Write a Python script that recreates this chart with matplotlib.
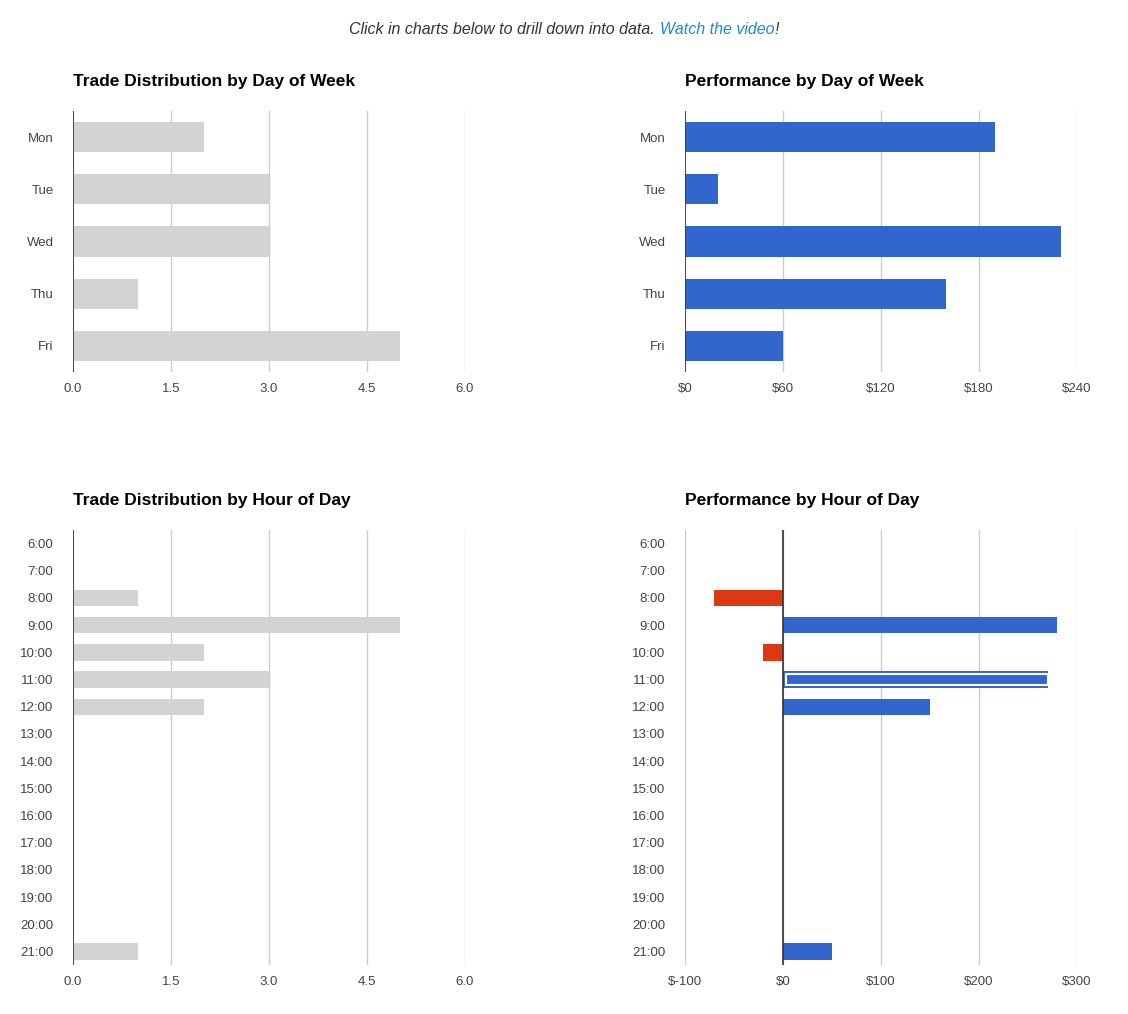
import matplotlib
matplotlib.use("Agg")
import matplotlib.pyplot as plt

plt.rcParams['font.family'] = ['Liberation Sans', 'DejaVu Sans']

days = ["Mon", "Tue", "Wed", "Thu", "Fri"]
day_counts = [2, 3, 3, 1, 5]
day_perf = [190, 20, 230, 160, 60]
hours = [f"{h}:00" for h in range(6, 22)]
hour_counts = [0, 0, 1, 5, 2, 3, 2, 0, 0, 0, 0, 0, 0, 0, 0, 1]
hour_perf = [0, 0, -70, 280, -20, 270, 150, 0, 0, 0, 0, 0, 0, 0, 0, 50]
highlight = "11:00"

GREY = "#d3d3d3"; BLUE = "#3366cc"; RED = "#dc3912"; GRID = "#cccccc"; TXT = "#444444"

fig = plt.figure(figsize=(11.28, 10.14), dpi=100)
W, H = 1128, 1014
def ax_at(x0, y0, x1, y1):
    return fig.add_axes([x0 / W, 1 - y1 / H, (x1 - x0) / W, (y1 - y0) / H])

def style(ax, ticks, labels, zero_x):
    for s in ax.spines.values():
        s.set_visible(False)
    ax.set_xticks(ticks)
    ax.set_xticklabels(labels)
    ax.tick_params(length=0, labelsize=9.5, colors=TXT, pad=8)
    ax.tick_params(axis='y', pad=14)
    ax.grid(axis='x', color=GRID, lw=1)
    ax.set_axisbelow(True)
    ax.axvline(zero_x, color="#333333", lw=1.2, zorder=3)

a1 = ax_at(73, 111, 465, 372)
a1.barh(days, day_counts, height=0.58, color=GREY)
a1.set_xlim(0, 6); a1.set_ylim(4.5, -0.5)
style(a1, [0, 1.5, 3, 4.5, 6], ["0.0", "1.5", "3.0", "4.5", "6.0"], 0)
a1.set_title("Trade Distribution by Day of Week", loc='left', fontsize=12.5, fontweight='bold', pad=18)

a2 = ax_at(685, 111, 1077, 372)
a2.barh(days, day_perf, height=0.58, color=BLUE)
a2.set_xlim(0, 240); a2.set_ylim(4.5, -0.5)
style(a2, [0, 60, 120, 180, 240], ["$0", "$60", "$120", "$180", "$240"], 0)
a2.set_title("Performance by Day of Week", loc='left', fontsize=12.5, fontweight='bold', pad=18)

a3 = ax_at(73, 530, 465, 965)
a3.barh(hours, hour_counts, height=0.6, color=GREY)
a3.set_xlim(0, 6); a3.set_ylim(15.5, -0.5)
style(a3, [0, 1.5, 3, 4.5, 6], ["0.0", "1.5", "3.0", "4.5", "6.0"], 0)
a3.set_title("Trade Distribution by Hour of Day", loc='left', fontsize=12.5, fontweight='bold', pad=18)

a4 = ax_at(685, 530, 1077, 965)
cols = [RED if v < 0 else BLUE for v in hour_perf]
a4.barh(hours, hour_perf, height=0.6, color=cols)
hi = hours.index(highlight)
a4.barh([hi], [hour_perf[hi] - 3], left=3, height=0.38, fill=False, edgecolor="white", lw=1.5, zorder=4)
a4.set_xlim(-100, 300); a4.set_ylim(15.5, -0.5)
style(a4, [-100, 0, 100, 200, 300], ["$-100", "$0", "$100", "$200", "$300"], 0)
a4.set_title("Performance by Hour of Day", loc='left', fontsize=12.5, fontweight='bold', pad=18)

t1 = fig.text(0.0, 1 - 29 / H, "Click in charts below to drill down into data. ", fontsize=11.5,
              style='italic', color="#333333", va='center')
t2 = fig.text(0.0, 1 - 29 / H, "Watch the video", fontsize=11.5, style='italic', color="#1a8ad4", va='center')
t3 = fig.text(0.0, 1 - 29 / H, "!", fontsize=11.5, style='italic', color="#333333", va='center')
fig.canvas.draw()
r = fig.canvas.get_renderer()
ws = [t.get_window_extent(r).width for t in (t1, t2, t3)]
x = (W / 2 - sum(ws) / 2)
for t, w in zip((t1, t2, t3), ws):
    t.set_x(x / W); x += w

fig.savefig("out.png", dpi=100)
